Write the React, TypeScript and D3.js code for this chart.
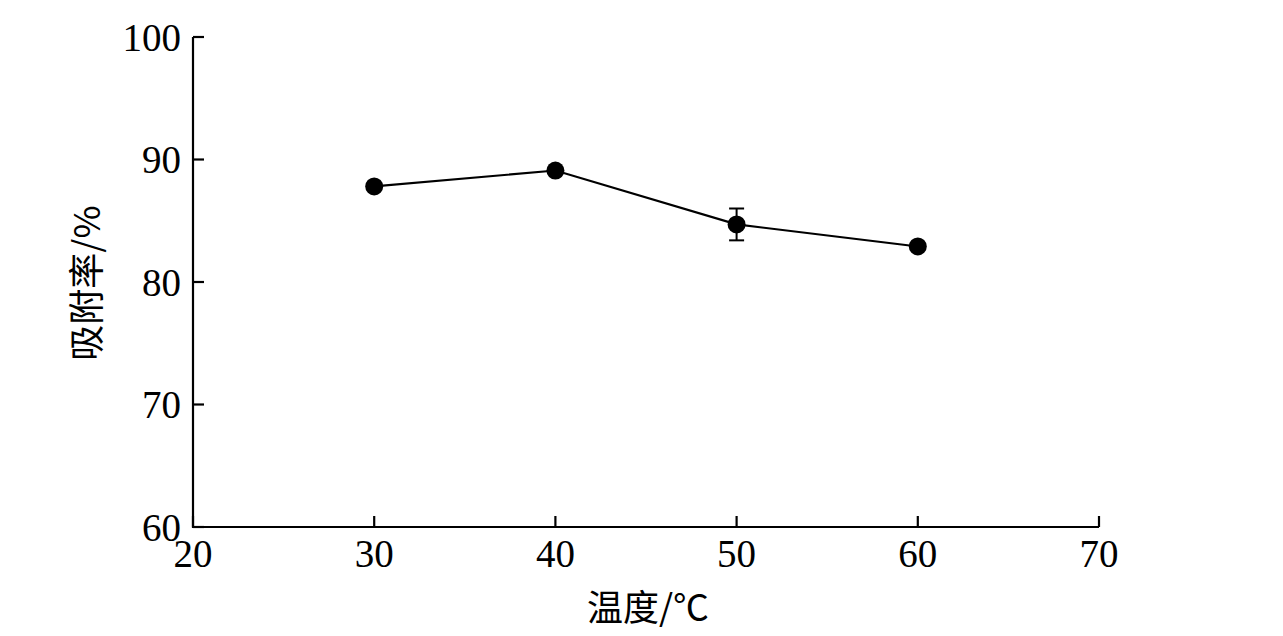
import React from "react";
import * as d3 from "d3";

const temperatures = [30, 40, 50, 60];
const adsorption = [87.8, 89.1, 84.7, 82.9];
const errors = [0, 0, 1.3, 0];
const xTicks = [20, 30, 40, 50, 60, 70];
const yTicks = [60, 70, 80, 90, 100];
const xLabel = "温度/℃";
const yLabel = "吸附率/%";

const W = 1283;
const H = 636;
const left = 193;
const right = 1099;
const top = 37;
const bottom = 527;
const serif = "'Liberation Serif', 'Times New Roman', 'Noto Serif CJK SC', serif";
const cjk = "'Noto Sans CJK SC', 'Liberation Serif', serif";

export default function App() {
  const x = d3.scaleLinear().domain([20, 70]).range([left, right]);
  const y = d3.scaleLinear().domain([60, 100]).range([bottom, top]);
  const line = d3
    .line<number>()
    .x((_, i) => x(temperatures[i]))
    .y((d) => y(d));
  const tickLen = 11;

  return (
    <svg
      width={W}
      height={H}
      style={{ position: "absolute", left: 0, top: 0, background: "#fff" }}
    >
      <rect width={W} height={H} fill="#fff" />
      <path
        d={`M${left},${top} V${bottom} H${right}`}
        fill="none"
        stroke="#000"
        strokeWidth={2.2}
      />
      {yTicks.map((t) => (
        <g key={"y" + t}>
          <line
            x1={left}
            x2={left + tickLen}
            y1={y(t)}
            y2={y(t)}
            stroke="#000"
            strokeWidth={2.2}
          />
          <text
            x={left - 12}
            y={y(t)}
            textAnchor="end"
            dominantBaseline="central"
            fontFamily={serif}
            fontSize={39}
          >
            {t}
          </text>
        </g>
      ))}
      {xTicks.map((t) => (
        <g key={"x" + t}>
          <line
            x1={x(t)}
            x2={x(t)}
            y1={bottom}
            y2={bottom - tickLen}
            stroke="#000"
            strokeWidth={2.2}
          />
          <text
            x={x(t)}
            y={bottom + 40}
            textAnchor="middle"
            fontFamily={serif}
            fontSize={39}
          >
            {t}
          </text>
        </g>
      ))}
      <path
        d={line(adsorption) || ""}
        fill="none"
        stroke="#000"
        strokeWidth={2.2}
      />
      {adsorption.map((v, i) =>
        errors[i] > 0 ? (
          <g key={"e" + i} stroke="#000" strokeWidth={2}>
            <line
              x1={x(temperatures[i])}
              x2={x(temperatures[i])}
              y1={y(v + errors[i])}
              y2={y(v - errors[i])}
            />
            <line
              x1={x(temperatures[i]) - 7.5}
              x2={x(temperatures[i]) + 7.5}
              y1={y(v + errors[i])}
              y2={y(v + errors[i])}
            />
            <line
              x1={x(temperatures[i]) - 7.5}
              x2={x(temperatures[i]) + 7.5}
              y1={y(v - errors[i])}
              y2={y(v - errors[i])}
            />
          </g>
        ) : null
      )}
      {adsorption.map((v, i) => (
        <circle
          key={"p" + i}
          cx={x(temperatures[i])}
          cy={y(v)}
          r={9}
          fill="#000"
        />
      ))}
      <text
        x={648}
        y={621}
        textAnchor="middle"
        fontFamily={cjk}
        fontSize={36}
      >
        {xLabel}
      </text>
      <text
        transform={`translate(100, 283) rotate(-90)`}
        textAnchor="middle"
        fontFamily={cjk}
        fontSize={36}
      >
        {yLabel}
      </text>
    </svg>
  );
}
